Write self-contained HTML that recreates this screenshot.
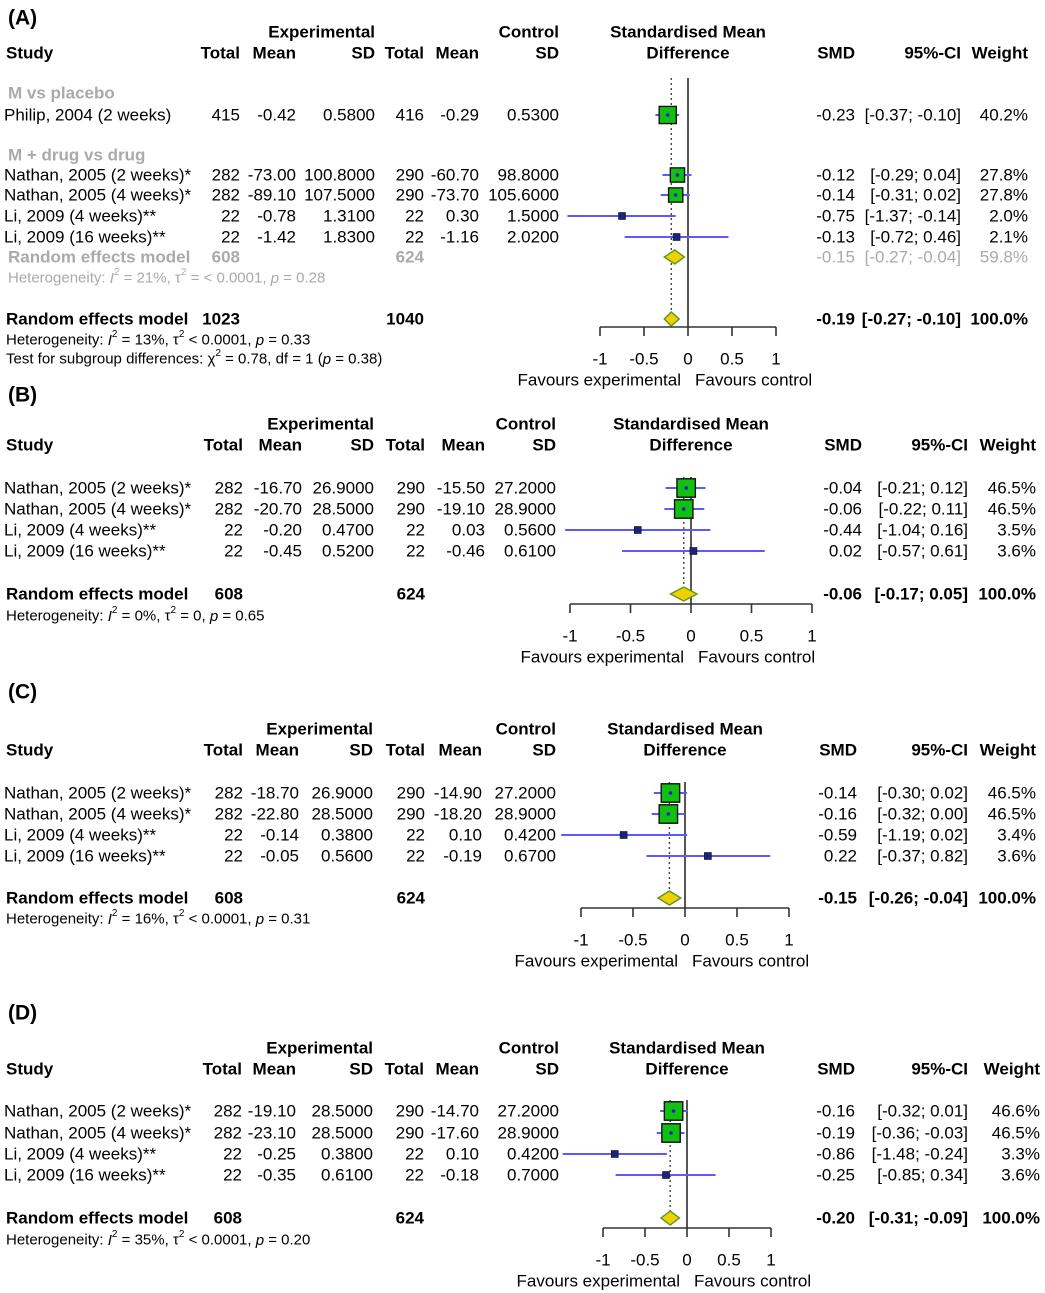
<!DOCTYPE html>
<html><head><meta charset="utf-8">
<style>
html,body{margin:0;padding:0;background:#fff;}
svg{display:block;font-family:"Liberation Sans",Arial,sans-serif;}
</style></head>
<body>
<svg id="chart" width="1045" height="1293" viewBox="0 0 1045 1293" xmlns="http://www.w3.org/2000/svg"></svg>
<script>
// ---------- Panel A data ----------
const aStudies = ["Philip, 2004 (2 weeks)","Nathan, 2005 (2 weeks)*","Nathan, 2005 (4 weeks)*","Li, 2009 (4 weeks)**","Li, 2009 (16 weeks)**"];
const aExpN = ["415","282","282","22","22"];
const aExpMean = ["-0.42","-73.00","-89.10","-0.78","-1.42"];
const aExpSD = ["0.5800","100.8000","107.5000","1.3100","1.8300"];
const aCtlN = ["416","290","290","22","22"];
const aCtlMean = ["-0.29","-60.70","-73.70","0.30","-1.16"];
const aCtlSD = ["0.5300","98.8000","105.6000","1.5000","2.0200"];
const aSmd = [-0.23,-0.12,-0.14,-0.75,-0.13];
const aLo = [-0.37,-0.29,-0.31,-1.37,-0.72];
const aHi = [-0.10,0.04,0.02,-0.14,0.46];
const aWeight = [40.2,27.8,27.8,2.0,2.1];
const aSubPooled = [-0.15,-0.27,-0.04,59.8];
const aPooled = [-0.19,-0.27,-0.10];
// ---------- Panel B data ----------
const bStudies = ["Nathan, 2005 (2 weeks)*","Nathan, 2005 (4 weeks)*","Li, 2009 (4 weeks)**","Li, 2009 (16 weeks)**"];
const bExpN = ["282","282","22","22"];
const bExpMean = ["-16.70","-20.70","-0.20","-0.45"];
const bExpSD = ["26.9000","28.5000","0.4700","0.5200"];
const bCtlN = ["290","290","22","22"];
const bCtlMean = ["-15.50","-19.10","0.03","-0.46"];
const bCtlSD = ["27.2000","28.9000","0.5600","0.6100"];
const bSmd = [-0.04,-0.06,-0.44,0.02];
const bLo = [-0.21,-0.22,-1.04,-0.57];
const bHi = [0.12,0.11,0.16,0.61];
const bWeight = [46.5,46.5,3.5,3.6];
const bPooled = [-0.06,-0.17,0.05];
// ---------- Panel C data ----------
const cStudies = bStudies;
const cExpN = ["282","282","22","22"];
const cExpMean = ["-18.70","-22.80","-0.14","-0.05"];
const cExpSD = ["26.9000","28.5000","0.3800","0.5600"];
const cCtlN = ["290","290","22","22"];
const cCtlMean = ["-14.90","-18.20","0.10","-0.19"];
const cCtlSD = ["27.2000","28.9000","0.4200","0.6700"];
const cSmd = [-0.14,-0.16,-0.59,0.22];
const cLo = [-0.30,-0.32,-1.19,-0.37];
const cHi = [0.02,0.00,0.02,0.82];
const cWeight = [46.5,46.5,3.4,3.6];
const cPooled = [-0.15,-0.26,-0.04];
// ---------- Panel D data ----------
const dStudies = bStudies;
const dExpN = ["282","282","22","22"];
const dExpMean = ["-19.10","-23.10","-0.25","-0.35"];
const dExpSD = ["28.5000","28.5000","0.3800","0.6100"];
const dCtlN = ["290","290","22","22"];
const dCtlMean = ["-14.70","-17.60","0.10","-0.18"];
const dCtlSD = ["27.2000","28.9000","0.4200","0.7000"];
const dSmd = [-0.16,-0.19,-0.86,-0.25];
const dLo = [-0.32,-0.36,-1.48,-0.85];
const dHi = [0.01,-0.03,-0.24,0.34];
const dWeight = [46.6,46.5,3.3,3.6];
const dPooled = [-0.20,-0.31,-0.09];
const tickValues = [-1,-0.5,0,0.5,1];
const tickLabels = ["-1","-0.5","0","0.5","1"];

const NS="http://www.w3.org/2000/svg";
const svg=document.getElementById('chart');
function mk(tag,attrs,parent){const e=document.createElementNS(NS,tag);for(const k in attrs)e.setAttribute(k,attrs[k]);(parent||svg).appendChild(e);return e;}
function txt(x,y,s,anchor,opts,name){
  opts=opts||{};
  const t=mk('text',{x:x,y:y,'text-anchor':anchor||'start','font-size':opts.size||17,'font-weight':opts.bold?'bold':'normal',fill:opts.fill||'#000','dominant-baseline':'central'});
  
  
  if(opts.html)t.innerHTML=s;else t.textContent=s;
  return t;
}
function f2(v){return (v<0?'-':'')+Math.abs(v).toFixed(2);}
function ci(lo,hi){return '['+f2(lo)+'; '+f2(hi)+']';}

function drawPanel(p,d){
  const sx=v=>p.x0+v*p.unit;
  txt(8,p.label,p.name,'start',{bold:true,size:21},'panel-label');
  const C=p.cols;
  txt(C[2],p.h1,'Experimental','end',{bold:true},'experimental-header');
  txt(C[5],p.h1,'Control','end',{bold:true},'control-header');
  txt(sx(0),p.h1,'Standardised Mean','middle',{bold:true},'smd-header');
  txt(sx(0),p.h2,'Difference','middle',{bold:true},'smd-header-2');
  txt(6,p.h2,'Study','start',{bold:true},'study-header');
  ['Total','Mean','SD','Total','Mean','SD'].forEach((h,i)=>txt(C[i],p.h2,h,'end',{bold:true},'column-header'));
  txt(C[6],p.h2,'SMD','end',{bold:true},'smd-col-header');
  txt(C[7],p.h2,'95%-CI','end',{bold:true},'ci-col-header');
  txt(C[8],p.h2,'Weight','end',{bold:true},'weight-col-header');
  const l0=mk('line',{x1:sx(0),x2:sx(0),y1:p.top,y2:p.axis,stroke:'#444','stroke-width':1.8});
  
  
  const ld=mk('line',{x1:sx(d.pooled[0]),x2:sx(d.pooled[0]),y1:p.top,y2:p.rey,stroke:'#444','stroke-width':1.4,'stroke-dasharray':'2,3'});
  
  
  d.studies.forEach((s,i)=>{
    const y=p.rows[i];
    txt(4,y,s,'start',{},'study-name');
    [d.en,d.em,d.es,d.cn,d.cm,d.cs].forEach((arr,j)=>txt(C[j],y,arr[i],'end',{},'study-value'));
    txt(C[6],y,f2(d.smd[i]),'end',{},'study-smd');
    txt(C[7],y,ci(d.lo[i],d.hi[i]),'end',{},'study-ci');
    txt(C[8],y,d.w[i].toFixed(1)+'%','end',{},'study-weight');
    const ln=mk('line',{x1:sx(d.lo[i]),x2:sx(d.hi[i]),y1:y,y2:y,stroke:'#5a5aff','stroke-width':2});
    
    
    const sz=d.w[i]>10?Math.sqrt(d.w[i])*2.7:7;
    const r=mk('rect',{x:sx(d.smd[i])-sz/2,y:y-sz/2,width:sz,height:sz,fill:d.w[i]>10?'#11c011':'#1a237e',stroke:'#111','stroke-width':d.w[i]>10?1.4:0.6});
    
    
    if(d.w[i]>10){const pt=mk('circle',{cx:sx(d.smd[i]),cy:y,r:1.8,fill:'#2020c0'});}
  });
  function diamond(v,lo,hi,y,name){
    const h=7;
    const g=mk('polygon',{points:`${sx(lo)},${y} ${sx(v)},${y-h} ${sx(hi)},${y} ${sx(v)},${y+h}`,fill:'#f0d000',stroke:'#5a9a20','stroke-width':1.4});
    
    
  }
  if(d.sub){
    txt(8,p.subRe,'Random effects model','start',{bold:true,fill:'#aaa'},'subgroup-re-label');
    txt(C[0],p.subRe,'608','end',{bold:true,fill:'#aaa'},'subgroup-total');
    txt(C[3],p.subRe,'624','end',{bold:true,fill:'#aaa'},'subgroup-total');
    txt(C[6],p.subRe,f2(d.sub[0]),'end',{fill:'#aaa'},'subgroup-smd');
    txt(C[7],p.subRe,ci(d.sub[1],d.sub[2]),'end',{fill:'#aaa'},'subgroup-ci');
    txt(C[8],p.subRe,d.sub[3].toFixed(1)+'%','end',{fill:'#aaa'},'subgroup-weight');
    diamond(d.sub[0],d.sub[1],d.sub[2],p.subRe,'subgroup-diamond');
  }
  txt(6,p.rey,'Random effects model','start',{bold:true},'re-model-label');
  txt(C[0],p.rey,d.tot[0],'end',{bold:true},'re-total-exp');
  txt(C[3],p.rey,d.tot[1],'end',{bold:true},'re-total-ctl');
  txt(C[6],p.rey,f2(d.pooled[0]),'end',{bold:true},'re-smd');
  txt(C[7],p.rey,ci(d.pooled[1],d.pooled[2]),'end',{bold:true},'re-ci');
  txt(C[8],p.rey,'100.0%','end',{bold:true},'re-weight');
  diamond(d.pooled[0],d.pooled[1],d.pooled[2],p.rey,'pooled-diamond');
  d.hets.forEach((h,i)=>txt(6,p.het[i],h,'start',{size:15,html:true},'heterogeneity-text'));
  const ax=mk('line',{x1:sx(-1),x2:sx(1),y1:p.axis,y2:p.axis,stroke:'#333','stroke-width':1.6});
  
  
  tickValues.forEach((v,i)=>{
    const t=mk('line',{x1:sx(v),x2:sx(v),y1:p.axis,y2:p.axis+9,stroke:'#333','stroke-width':1.6});
    
    
    txt(sx(v),p.axis+32,tickLabels[i],'middle',{},'x-tick-label');
  });
  txt(sx(0)-7,p.axis+53,'Favours experimental','end',{},'favours-experimental');
  txt(sx(0)+7,p.axis+53,'Favours control','start',{},'favours-control');
}

const SUB='<tspan baseline-shift="super" font-size="10">2</tspan>';
drawPanel({name:'(A)',label:18,h1:32,h2:53,x0:688,unit:88,top:78,axis:327,rows:[115,175,195,216,237],subRe:257,rey:319,het:[340,359],
  cols:[240,296,375,424,479,559,855,961,1028]},
  {studies:aStudies,en:aExpN,em:aExpMean,es:aExpSD,cn:aCtlN,cm:aCtlMean,cs:aCtlSD,smd:aSmd,lo:aLo,hi:aHi,w:aWeight,pooled:aPooled,sub:aSubPooled,tot:['1023','1040'],
  hets:['Heterogeneity: <tspan font-style="italic">I</tspan>'+SUB+' = 13%, τ'+SUB+' &lt; 0.0001, <tspan font-style="italic">p</tspan> = 0.33',
        'Test for subgroup differences: χ'+SUB+' = 0.78, df = 1 (<tspan font-style="italic">p</tspan> = 0.38)']});
txt(8,93,'M vs placebo','start',{bold:true,fill:'#aaa'},'subgroup-label');
txt(8,155,'M + drug vs drug','start',{bold:true,fill:'#aaa'},'subgroup-label');
txt(8,278,'Heterogeneity: <tspan font-style="italic">I</tspan>'+SUB+' = 21%, τ'+SUB+' = &lt; 0.0001, <tspan font-style="italic">p</tspan> = 0.28','start',{size:15,fill:'#aaa',html:true},'subgroup-heterogeneity');

drawPanel({name:'(B)',label:395,h1:424,h2:445,x0:691,unit:121,top:477,axis:604,rows:[488,509,530,551],rey:594,het:[616],
  cols:[243,302,374,425,485,556,862,968,1036]},
  {studies:bStudies,en:bExpN,em:bExpMean,es:bExpSD,cn:bCtlN,cm:bCtlMean,cs:bCtlSD,smd:bSmd,lo:bLo,hi:bHi,w:bWeight,pooled:bPooled,tot:['608','624'],
  hets:['Heterogeneity: <tspan font-style="italic">I</tspan>'+SUB+' = 0%, τ'+SUB+' = 0, <tspan font-style="italic">p</tspan> = 0.65']});
drawPanel({name:'(C)',label:692,h1:729,h2:750,x0:685,unit:104,top:782,axis:908,rows:[793,814,835,856],rey:898,het:[919],
  cols:[243,299,373,425,482,556,857,968,1036]},
  {studies:cStudies,en:cExpN,em:cExpMean,es:cExpSD,cn:cCtlN,cm:cCtlMean,cs:cCtlSD,smd:cSmd,lo:cLo,hi:cHi,w:cWeight,pooled:cPooled,tot:['608','624'],
  hets:['Heterogeneity: <tspan font-style="italic">I</tspan>'+SUB+' = 16%, τ'+SUB+' &lt; 0.0001, <tspan font-style="italic">p</tspan> = 0.31']});
drawPanel({name:'(D)',label:1013,h1:1048,h2:1069,x0:687,unit:84,top:1100,axis:1228,rows:[1111,1133,1154,1175],rey:1218,het:[1240],
  cols:[242,296,373,424,479,559,855,968,1040]},
  {studies:dStudies,en:dExpN,em:dExpMean,es:dExpSD,cn:dCtlN,cm:dCtlMean,cs:dCtlSD,smd:dSmd,lo:dLo,hi:dHi,w:dWeight,pooled:dPooled,tot:['608','624'],
  hets:['Heterogeneity: <tspan font-style="italic">I</tspan>'+SUB+' = 35%, τ'+SUB+' &lt; 0.0001, <tspan font-style="italic">p</tspan> = 0.20']});
</script>
</body></html>
